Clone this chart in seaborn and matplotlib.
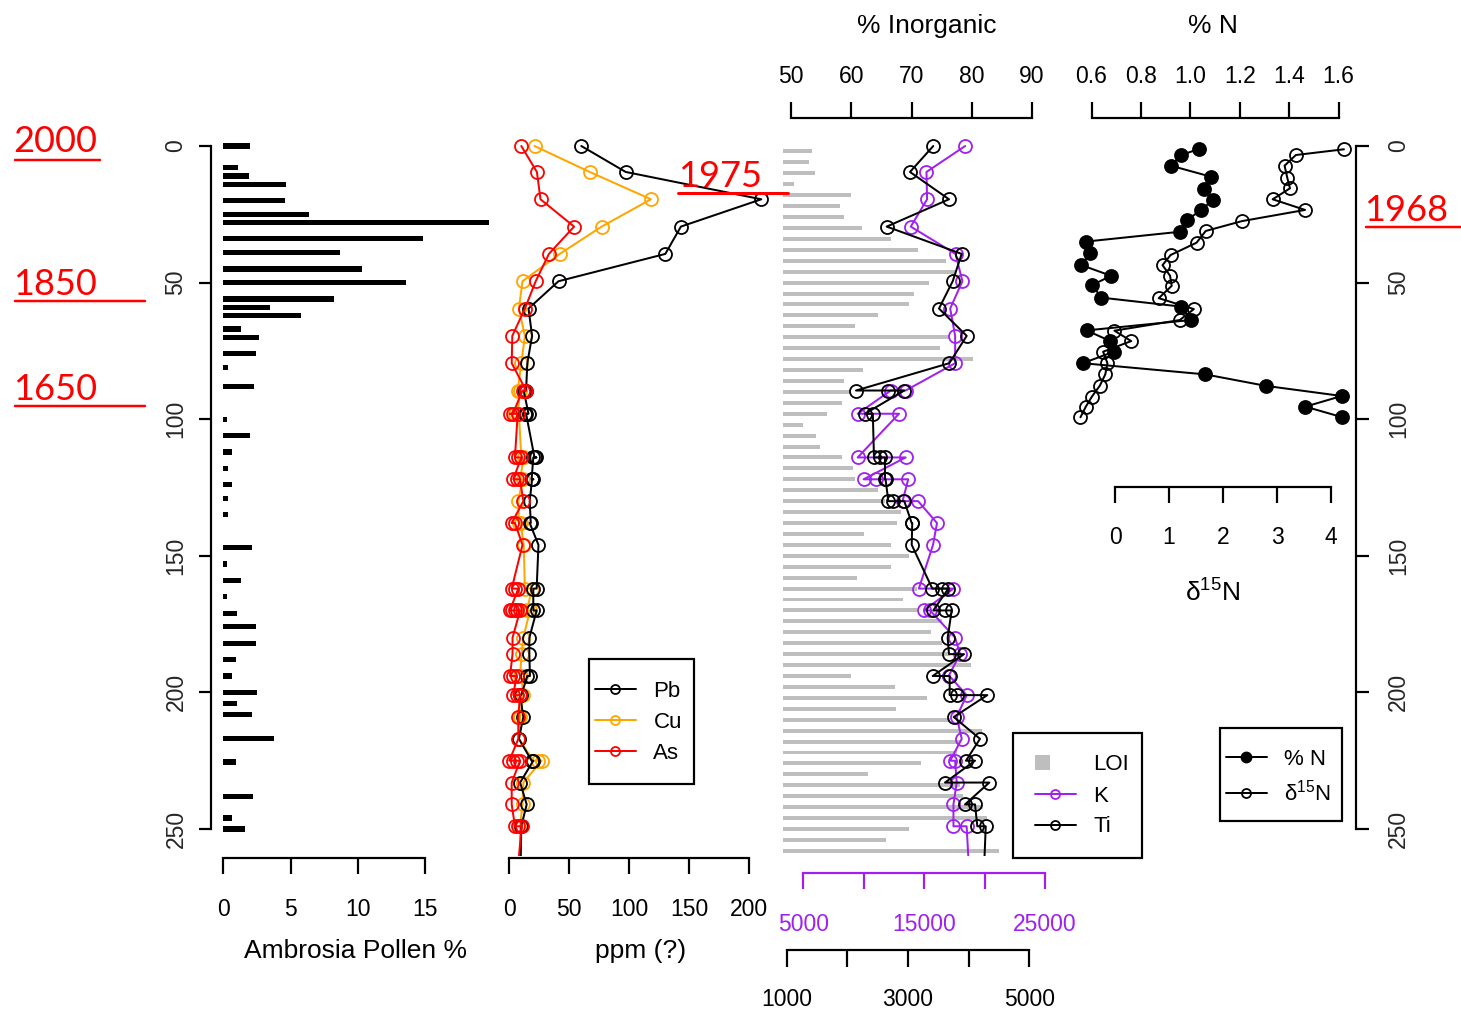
import matplotlib
matplotlib.use("Agg")
import matplotlib.pyplot as plt
from matplotlib.lines import Line2D
from matplotlib.patches import Rectangle, Patch
from matplotlib.legend_handler import HandlerPatch
import seaborn as sns

# ---------------- data ----------------
# Ambrosia pollen (% of pollen sum) by depth (cm)
pollen_depth = [0, 8, 11, 14, 20, 25, 28, 34, 39, 45, 50, 56, 59, 62, 67, 70, 76, 81, 88, 100,
                106, 112, 118, 124, 129, 135, 147, 153, 159, 165, 171, 176, 182, 188, 194,
                200, 204, 208, 217, 225.5, 238, 246, 250]
pollen_pct = [2.0, 1.06, 1.93, 4.68, 4.6, 6.36, 19.7, 14.8, 8.7, 10.3, 13.6, 8.2, 3.44, 5.8, 1.29,
              2.62, 2.45, 0.32, 2.25, 0.3, 1.96, 0.67, 0.32, 0.67, 0.32, 0.32, 2.15, 0.3, 1.3, 0.3,
              1.0, 2.42, 2.4, 0.96, 0.64, 2.52, 1.0, 2.1, 3.74, 0.96, 2.23, 0.64, 1.63]

# Metals (ppm), replicate measurements listed in run order
pb_depth = [0, 9.5, 19.5, 29.5, 39.5, 49.5, 59.5, 69.5, 79.5, 89.5, 89.5, 98, 98, 98,
            114, 114, 114, 122, 122, 122, 130, 138, 138, 146, 162, 162, 170, 170, 180, 186,
            194, 194, 201, 201, 209, 217, 225, 225, 233, 241, 249, 265]
pb_ppm = [60, 97, 210, 143, 130, 41, 16, 19, 15, 14, 12, 16, 13, 14,
          21, 22.5, 20, 18.6, 20, 19, 17, 17.9, 17, 24.3, 22.8, 20, 20, 22.8, 16.7, 16.7,
          17.2, 15, 10, 9, 11.7, 8, 18.6, 20, 9, 14.5, 10, 9.3]

cu_depth = [0, 9.5, 19.5, 29.5, 39.5, 49.5, 59.5, 69.5, 79.5, 89.5, 89.5, 98, 98, 98,
            114, 114, 122, 122, 130, 138, 138, 146, 162, 162, 170, 170, 180, 186, 194, 194,
            201, 209, 217, 225, 225, 225, 233, 241, 249, 265]
cu_ppm = [21, 67, 118, 77, 42, 11, 8, 13, 10, 7, 9, 7, 5, 8,
          10, 12, 9, 11, 7.5, 8, 9.5, 12, 13, 18.6, 15, 17.2, 11.7, 10.3, 8.9, 10,
          11.7, 8.9, 8, 20, 24, 27, 11.7, 11, 9, 9.5]

as_depth = [0, 9.5, 19.5, 29.5, 39.5, 49.5, 59.5, 69.5, 79.5, 89.5, 89.5, 98, 98, 98,
            114, 114, 114, 122, 122, 122, 130, 138, 138, 146, 162, 162, 162,
            170, 170, 170, 170, 170, 180, 186, 194, 194, 194, 201, 201, 201, 209, 217,
            225, 225, 225, 225, 233, 241, 249, 249, 249, 265]
as_ppm = [10, 23, 26, 54, 33, 22, 13, 2.5, 2, 14, 11, 3, 0.5, 7,
          4.7, 7.5, 10, 3.3, 6, 8.9, 11.7, 2, 4.7, 11, 2, 4.7, 7.5,
          0.5, 2.5, 4.5, 6.5, 9, 2.7, 2.7, 0.6, 3.3, 6, 3.3, 6, 8.9, 7.5, 7.5,
          0, 3, 6, 9, 2, 2, 4.7, 7.5, 10.3, 7]

# Loss on ignition (% inorganic), every 4 cm
loi_depth = [2, 6, 10, 14, 18, 22, 26, 30, 34, 38, 42, 46, 50, 54, 58, 62, 66, 70, 74, 78,
             82, 86, 90, 94, 98, 102, 106, 110, 114, 118, 122, 126, 130, 134, 138, 142, 146,
             150, 154, 158, 162, 166, 170, 174, 178, 182, 186, 190, 194, 198, 202, 206, 210,
             214, 218, 222, 226, 230, 234, 238, 242, 246, 250, 254, 258]
loi_inorg = [53.4, 52.9, 54.0, 50.5, 59.9, 58.1, 58.7, 61.7, 66.5, 71.0, 75.7, 77.2, 72.9, 70.4,
             69.6, 64.5, 60.6, 76.2, 74.8, 80.2, 61.9, 58.7, 59.8, 58.5, 55.9, 51.9, 54.1, 54.8,
             58.5, 60.3, 60.6, 64.4, 65.6, 68.2, 67.5, 62.1, 66.5, 69.5, 66.6, 61.0, 70.9, 68.5,
             70.9, 75.0, 73.2, 75.0, 76.4, 79.9, 59.9, 67.3, 72.6, 67.4, 76.4, 81.8, 78.0, 77.5,
             71.5, 62.8, 78.0, 78.6, 81.9, 82.5, 69.5, 65.8, 84.5]

# XRF potassium and titanium counts
k_depth = [0, 9.5, 19.5, 29.5, 39.5, 49.5, 59.5, 69.5, 79.5, 89.5, 89.5, 98, 98, 114, 114,
           122, 122, 122, 130, 130, 138, 146, 162, 162, 170, 170, 180, 186, 194, 194, 201,
           209, 217, 225, 225, 233, 241, 249, 249, 265]
k_counts = [18400, 15200, 15250, 13900, 17600, 18170, 17160, 17570, 17570, 13480, 12250, 9510,
            12930, 9510, 13480, 10000, 11020, 13690, 13220, 14510, 16070, 15740, 14570, 17430,
            14980, 15500, 17570, 17980, 17030, 17100, 18520, 17700, 18115, 17160, 17570, 17700,
            17430, 17430, 18520, 18720]

ti_depth = [0, 9.5, 19.5, 29.5, 39.5, 49.5, 59.5, 69.5, 79.5, 89.5, 89.5, 89.5, 98, 98,
            114, 114, 114, 122, 122, 130, 130, 130, 138, 138, 146, 162, 162, 162, 170, 170, 170,
            180, 186, 186, 194, 194, 201, 201, 201, 209, 217, 225, 225, 233, 233, 241, 241,
            249, 249, 265]
ti_counts = [3417, 3033, 3676, 2649, 3885, 3737, 3511, 3968, 3681, 2143, 2676, 2939, 2290, 2420,
             2439, 2538, 2620, 2620, 2630, 2676, 2758, 2939, 3061, 3070, 3061, 3401, 3566, 3665,
             3417, 3610, 3720, 3654, 3676, 3924, 3407, 3687, 3687, 3808, 4308, 3754, 4187, 3956,
             4105, 3610, 4341, 3940, 4105, 4143, 4282, 4253]

# Nitrogen content and isotopes
n_depth = [1.1, 3.3, 7.2, 11.2, 15.7, 19.8, 23.4, 27.1, 31.4, 35, 39.3, 43.6, 47.5, 50.9, 55.5,
           58.8, 63.7, 67.5, 71.4, 75.3, 79.5, 83.6, 87.8, 91.5, 95.4, 99.3]
n_pct = [1.034, 0.964, 0.921, 1.082, 1.054, 1.091, 1.044, 0.987, 0.957, 0.576, 0.593, 0.559,
         0.679, 0.603, 0.64, 0.964, 1.002, 0.58, 0.676, 0.69, 0.565, 1.061, 1.306, 1.613,
         1.466, 1.616]
d15n_depth = [1.2, 3.3, 7.2, 11.6, 15.5, 19.5, 23.4, 27.5, 31.1, 35.4, 39.9, 43.6, 47.5, 51.2,
              55.7, 59.7, 63.7, 67.6, 71.4, 75.3, 79.5, 83.6, 87.7, 91.8, 95.4, 99.3]
d15n = [4.24, 3.35, 3.14, 3.19, 3.24, 2.92, 3.52, 2.35, 1.68, 1.51, 1.03, 0.88, 1.02, 1.05,
        0.81, 1.46, 1.2, -0.01, 0.3, -0.22, -0.14, -0.18, -0.28, -0.43, -0.54, -0.64]

depth_ticks = [0, 50, 100, 150, 200, 250]

# ---------------- style ----------------
sns.set_theme(style="white")
plt.rcParams['font.family'] = ['Liberation Sans', 'DejaVu Sans']
plt.rcParams['mathtext.default'] = 'regular'
plt.rcParams['text.color'] = 'black'
plt.rcParams['axes.edgecolor'] = 'black'

W, H, DPI = 1461, 1011, 100
PT = 72.0 / DPI           # points per pixel
FS_TICK = 16.5
FS_LEG = 16
FS_LAB = 19
LW_AX = 2.2 * PT
LW = 2.0 * PT
MS = 13 * PT
MEW = 1.8 * PT
RED = '#FF0000'
ORANGE = '#FFA500'
PURPLE = '#A020F0'
GRAY = '#BEBEBE'
ANNOT_FONT = ['Lato', 'DejaVu Sans']

fig = plt.figure(figsize=(W / DPI, H / DPI), dpi=DPI)
fig.patch.set_facecolor('white')

# vertical depth scale shared by all panels
Y_ZERO, PX_PER_CM = 146.0, 2.732
TOP_PX = Y_ZERO - 10 * PX_PER_CM
BOT_PX = Y_ZERO + 260 * PX_PER_CM


def panel(x0, x1, p0, v0, ppu):
    ax = fig.add_axes([x0 / W, 1 - BOT_PX / H, (x1 - x0) / W, (BOT_PX - TOP_PX) / H])
    ax.set_facecolor('none')
    for s in ax.spines.values():
        s.set_visible(False)
    ax.set_xticks([])
    ax.set_yticks([])
    ax.set_xlim(v0 + (x0 - p0) / ppu, v0 + (x1 - p0) / ppu)
    ax.set_ylim(260, -10)
    ax.grid(False)
    return ax


def twin(ax, x0, x1, p0, v0, ppu):
    t = ax.twiny()
    t.set_facecolor('none')
    for s in t.spines.values():
        s.set_visible(False)
    t.set_xlim(v0 + (x0 - p0) / ppu, v0 + (x1 - p0) / ppu)
    t.set_ylim(260, -10)
    t.grid(False)
    return t


def x_axis(ax, side, bounds, ticks, labels, offset_px, tick_px, pad_pt, color='black', pos=None):
    sp = ax.spines[side]
    sp.set_visible(True)
    sp.set_bounds(*bounds)
    sp.set_position(pos if pos is not None else ('outward', offset_px * PT))
    sp.set_color(color)
    sp.set_linewidth(LW_AX)
    ax.xaxis.set_ticks_position(side)
    ax.set_xticks(ticks)
    ax.set_xticklabels(labels)
    ax.tick_params(axis='x', direction='out', length=tick_px * PT, width=LW_AX, color=color,
                   labelcolor=color, labelsize=FS_TICK, pad=pad_pt)
    ax.set_xlabel('')


def depth_axis(ax, side, pad_pt):
    sp = ax.spines[side]
    sp.set_visible(True)
    sp.set_bounds(0, 250)
    sp.set_linewidth(LW_AX)
    sp.set_color('black')
    ax.yaxis.set_ticks_position(side)
    ax.set_yticks(depth_ticks)
    ax.set_yticklabels([str(t) for t in depth_ticks], rotation=90, va='center')
    ax.tick_params(axis='y', direction='out', length=12.5 * PT, width=LW_AX, color='black',
                   labelsize=FS_TICK, pad=pad_pt)
    ax.set_ylabel('')


def trace(ax, vals, depth, color, filled=False, z=3):
    sns.lineplot(x=vals, y=depth, ax=ax, orient='y', sort=False, estimator=None,
                 color=color, linewidth=LW, marker='o', markersize=MS,
                 markerfacecolor=color if filled else 'none', markeredgecolor=color,
                 markeredgewidth=MEW, zorder=z, legend=False)
    ax.set_xlabel('')
    ax.set_ylabel('')


# ---------------- panel 1: Ambrosia pollen ----------------
ax1 = panel(211, 495, 223.3, 0, (425.3 - 223.3) / 15)
ax1.barh(pollen_depth, pollen_pct, height=1.9, left=0, color='black', linewidth=0)
x_axis(ax1, 'bottom', (0, 15), [0, 5, 10, 15], ['0', '5', '10', '15'], 1.5, 15.7, 17.5)
depth_axis(ax1, 'left', 8.0)
ax1.set_ylim(260, -10)

# ---------------- panel 2: metals ----------------
ax2 = panel(500, 775, 509.3, 0, 1.2)
trace(ax2, cu_ppm, cu_depth, ORANGE)
trace(ax2, pb_ppm, pb_depth, 'black')
trace(ax2, as_ppm, as_depth, RED)
x_axis(ax2, 'bottom', (0, 200), [0, 50, 100, 150, 200], ['0', '50', '100', '150', '200'],
       1.5, 15.7, 17.5)
ax2.set_yticks([])
ax2.set_ylim(260, -10)

# ---------------- panel 3: LOI, K, Ti ----------------
X3A, X3B = 783, 1045
ax3 = panel(X3A, X3B, 791.3, 50, (1031.8 - 791.3) / 40)
ax3.barh(loi_depth, loi_inorg, height=1.45, left=0, color=GRAY, linewidth=0)

ax3k = twin(ax3, X3A, X3B, 803.3, 5000, (1047.3 - 803.3) / 20000)
trace(ax3k, k_counts, k_depth, PURPLE)
x_axis(ax3k, 'bottom', (5000, 25000), [5000, 10000, 15000, 20000, 25000],
       ['5000', '', '15000', '', '25000'], 17, 15.7, 17.2, color=PURPLE)
ax3k.set_ylim(260, -10)

ax3t = twin(ax3, X3A, X3B, 786.7, 1000, (1029.3 - 786.7) / 4000)
trace(ax3t, ti_counts, ti_depth, 'black', z=4)
x_axis(ax3t, 'bottom', (1000, 5000), [1000, 2000, 3000, 4000, 5000],
       ['1000', '', '3000', '', '5000'], 93.7, 16.5, 15.2)
ax3t.set_ylim(260, -10)

# the twins move the host's ticks to the bottom, so the top scale is set last
x_axis(ax3, 'top', (50, 90), [50, 60, 70, 80, 90], ['50', '60', '70', '80', '90'],
       0.5, 16, 10.5)
ax3.set_yticks([])

# ---------------- panel 4: %N and d15N ----------------
X4A, X4B = 1068, 1356
ax4 = panel(X4A, X4B, 1091.5, 0.6, 247)
trace(ax4, n_pct, n_depth, 'black', filled=True)

ax4d = twin(ax4, X4A, X4B, 1115, 0, 54)
trace(ax4d, d15n, d15n_depth, 'black')
x_axis(ax4d, 'bottom', (0, 4), [0, 1, 2, 3, 4], ['0', '1', '2', '3', '4'], 0, 16, 16.5,
       pos=('data', 125))
ax4d.set_ylim(260, -10)

x_axis(ax4, 'top', (0.6, 1.6), [0.6, 0.8, 1.0, 1.2, 1.4, 1.6],
       ['0.6', '0.8', '1.0', '1.2', '1.4', '1.6'], 0.5, 16, 10.5)
depth_axis(ax4, 'right', 13.5)
ax4.set_ylim(260, -10)

# ---------------- axis titles ----------------
def ftext(x, y, s, **kw):
    return fig.text(x / W, 1 - y / H, s, **kw)

ftext(355.5, 951, 'Ambrosia Pollen %', ha='center', va='center', fontsize=FS_LAB)
ftext(641, 951, 'ppm (?)', ha='center', va='center', fontsize=FS_LAB)
ftext(927, 26, '% Inorganic', ha='center', va='center', fontsize=FS_LAB)
ftext(1213, 26, '% N', ha='center', va='center', fontsize=FS_LAB)
ftext(1212.5, 593, 'δ$^{15}$N', ha='center', va='center', fontsize=FS_LAB)

# ---------------- legends ----------------
def boxed_legend(ax, handles, labels, anchor, box, handler_map=None):
    leg = ax.legend(handles=handles, labels=labels, loc='upper left',
                    bbox_to_anchor=(anchor[0] / W, 1 - anchor[1] / H),
                    bbox_transform=fig.transFigure, frameon=False, borderpad=0,
                    borderaxespad=0, handlelength=1.83, handletextpad=0.8,
                    labelspacing=0.45, fontsize=FS_LEG, handler_map=handler_map)
    leg.set_zorder(10)
    x0, y0, x1, y1 = box
    fig.add_artist(Rectangle((x0 / W, 1 - y1 / H), (x1 - x0) / W, (y1 - y0) / H,
                             transform=fig.transFigure, fill=False, edgecolor='black',
                             linewidth=LW_AX, zorder=10))
    return leg


def open_handle(color, filled=False, size=9):
    return Line2D([], [], color=color, linewidth=LW, marker='o', markersize=size * PT,
                  markerfacecolor=color if filled else 'none', markeredgecolor=color,
                  markeredgewidth=MEW)


def square_patch(legend, orig_handle, xdescent, ydescent, width, height, fontsize):
    s = 15 * PT
    return Rectangle((-xdescent, -ydescent + (height - s) / 2), s, s)


boxed_legend(ax2, [open_handle('black'), open_handle(ORANGE), open_handle(RED)],
             ['Pb', 'Cu', 'As'], (595, 681), (589, 659.3, 693.7, 784))
boxed_legend(ax3t, [Patch(facecolor=GRAY, edgecolor='none'), open_handle(PURPLE),
                    open_handle('black')],
             ['LOI', 'K', 'Ti'], (1035, 754.5), (1013.3, 733.3, 1141.7, 858.3),
             handler_map={Patch: HandlerPatch(patch_func=square_patch)})
boxed_legend(ax4d, [open_handle('black', filled=True, size=10), open_handle('black')],
             ['% N', 'δ$^{15}$N'], (1226, 749), (1220, 727.7, 1341.7, 820.7))

# ---------------- dated horizons ----------------
def horizon(label, x, baseline, line_x, line_y, lw_px=2.5):
    ftext(x, baseline, label, ha='left', va='baseline', fontsize=26, color=RED,
          family=ANNOT_FONT)
    fig.add_artist(Line2D([line_x[0] / W, line_x[1] / W], [1 - line_y / H] * 2,
                          transform=fig.transFigure, color=RED, linewidth=lw_px * PT,
                          zorder=12))


horizon('2000', 13, 151.7, (15, 100), 160)
horizon('1850', 13, 295, (15, 145), 301)
horizon('1650', 13, 400, (15, 145), 406)
horizon('1975', 678, 186.7, (678, 788), 193, lw_px=3)
horizon('1968', 1364, 221, (1366, 1461), 227)

fig.savefig('out.png', dpi=DPI, facecolor='white')
